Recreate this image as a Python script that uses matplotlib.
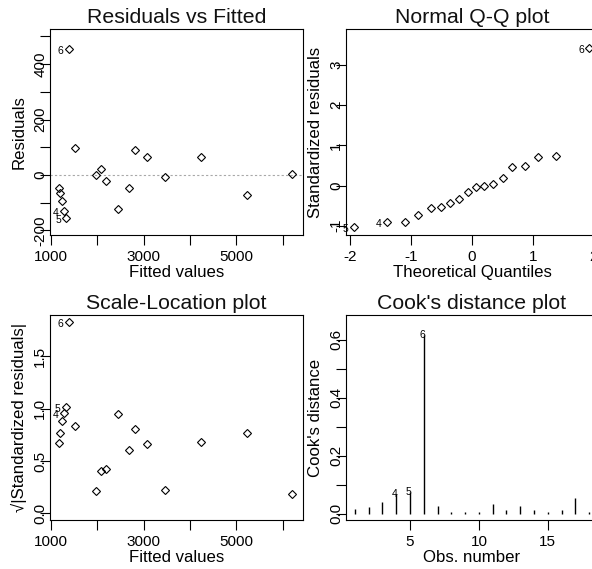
import matplotlib
matplotlib.use("Agg")
import matplotlib.pyplot as plt

# --- Residuals vs Fitted (first three points are obs 6, 4, 5) ---
rf_fitted = [1399, 1291, 1338, 1170, 1192, 1241, 1522, 1981, 2082, 2190,
             2455, 2692, 2815, 3073, 3454, 4243, 5235, 6198]
rf_resid = [454, -130, -155, -48, -64, -93, 96, -2, 23, -22,
            -124, -48, 91, 63, -6, 63, -71, 4]

# --- Normal Q-Q (sorted; lowest is obs 5, next obs 4, highest obs 6) ---
qq_theo = [-1.94, -1.40, -1.10, -0.88, -0.68, -0.51, -0.36, -0.21, -0.07,
           0.07, 0.20, 0.35, 0.51, 0.66, 0.87, 1.08, 1.38, 1.93]
qq_std = [-1.03, -0.90, -0.90, -0.73, -0.57, -0.54, -0.43, -0.33, -0.17,
          -0.03, -0.02, 0.04, 0.18, 0.46, 0.49, 0.70, 0.73, 3.42]

# --- Scale-Location (first three points are obs 6, 4, 5) ---
sl_fitted = [1399, 1287, 1336, 1172, 1194, 1244, 1522, 1981, 2082, 2190,
             2455, 2692, 2815, 3073, 3454, 4243, 5235, 6198]
sl_sqrt = [1.825, 0.962, 1.019, 0.672, 0.768, 0.879, 0.834, 0.210, 0.404, 0.420,
           0.949, 0.602, 0.809, 0.666, 0.226, 0.678, 0.771, 0.185]

# --- Cook's distance ---
obs = list(range(1, 19))
cook = [0.016, 0.023, 0.039, 0.068, 0.073, 0.616, 0.025, 0.004, 0.004,
        0.004, 0.034, 0.014, 0.025, 0.011, 0.004, 0.014, 0.054, 0.004]
cook_ids = [4, 5, 6]

FONT = ["Liberation Sans", "DejaVu Sans"]
NARROW = ["Liberation Sans Narrow", "Liberation Sans", "DejaVu Sans"]
plt.rcParams["font.family"] = FONT

fig = plt.figure(figsize=(5.92, 5.69), dpi=100)
W, H = 592, 569


def add_ax(x0, y0, x1, y1):
    return fig.add_axes([x0 / W, 1 - y1 / H, (x1 - x0) / W, (y1 - y0) / H])


ax1 = add_ax(50, 29, 303, 235)
ax2 = add_ax(346, 29, 598, 235)
ax3 = add_ax(50, 315, 303, 520)
ax4 = add_ax(346, 315, 598, 520)

mk = dict(marker="D", ms=3.6, mfc="none", mec="black", mew=0.8, ls="none")


def style(ax, title, xlabel, ylabel, xt, xtl, yt, ytl):
    ax.set_title(title, fontsize=15.3, pad=4.2, color="#111111")
    ax.set_xticks(xt, xtl)
    ax.set_yticks(yt, ytl)
    for s in ax.spines.values():
        s.set_linewidth(0.8)
    ax.tick_params(length=7.5, width=0.8, labelsize=11, labelfontfamily=NARROW)
    ax.tick_params(axis="x", pad=3.5)
    ax.tick_params(axis="y", pad=-5.5, labelrotation=90)
    for t in ax.get_yticklabels():
        t.set_verticalalignment("center")
    ax.set_xlabel(xlabel, fontsize=12.1, va="baseline")
    ax.set_ylabel(ylabel, fontsize=12.1, va="baseline")
    ax.xaxis.set_label_coords(0.5, -0.205)
    ax.yaxis.set_label_coords(-0.103, 0.5)


def tag(ax, x, y, s):
    ax.annotate(s, (x, y), xytext=(-4.0, -1.5), textcoords="offset points",
                ha="right", va="center", fontsize=7.5, family=NARROW)


fit_ticks = [1000, 2000, 3000, 4000, 5000, 6000]
fit_labels = ["1000", "", "3000", "", "5000", ""]

# Residuals vs Fitted
ax1.axhline(0, color="#a8a8a8", lw=0.8, ls=(0, (2, 2)))
ax1.plot(rf_fitted, rf_resid, **mk)
for i, s in enumerate(["6", "4", "5"]):
    tag(ax1, rf_fitted[i], rf_resid[i], s)
ax1.set_xlim(983, 6437)
ax1.set_ylim(-217, 527)
style(ax1, "Residuals vs Fitted", "Fitted values", "Residuals",
      fit_ticks, fit_labels,
      [-200, -100, 0, 100, 200, 300, 400, 500],
      ["-200", "", "0", "", "200", "", "400", ""])

# Normal Q-Q
ax2.plot(qq_theo, qq_std, **mk)
tag(ax2, qq_theo[0], qq_std[0], "5")
tag(ax2, qq_theo[1], qq_std[1], "4")
tag(ax2, qq_theo[-1], qq_std[-1], "6")
ax2.set_xlim(-2.07, 2.07)
ax2.set_ylim(-1.23, 3.89)
style(ax2, "Normal Q-Q plot", "Theoretical Quantiles", "Standardized residuals",
      [-2, -1, 0, 1, 2], ["-2", "-1", "0", "1", "2"],
      [-1, 0, 1, 2, 3], ["-1", "0", "1", "2", "3"])

# Scale-Location
ax3.plot(sl_fitted, sl_sqrt, **mk)
for i, s in enumerate(["6", "4", "5"]):
    tag(ax3, sl_fitted[i], sl_sqrt[i], s)
ax3.set_xlim(983, 6437)
ax3.set_ylim(-0.064, 1.894)
style(ax3, "Scale-Location plot", "Fitted values", "\u221a|Standardized residuals|",
      fit_ticks, fit_labels,
      [0, 0.5, 1.0, 1.5], ["0.0", "0.5", "1.0", "1.5"])

# Cook's distance
ax4.vlines(obs, 0, cook, color="black", lw=1.0)
for k in cook_ids:
    ax4.annotate(str(k), (k, cook[k - 1]), xytext=(-1.2, 0), textcoords="offset points",
                 ha="center", va="center", fontsize=7.5, family=NARROW)
ax4.set_xlim(0.35, 18.65)
ax4.set_ylim(-0.022, 0.685)
style(ax4, "Cook's distance plot", "Obs. number", "Cook's distance",
      [5, 10, 15], ["5", "10", "15"],
      [0, 0.1, 0.2, 0.3, 0.4, 0.5, 0.6], ["0.0", "", "0.2", "", "0.4", "", "0.6"])

fig.savefig("out.png", dpi=100)
